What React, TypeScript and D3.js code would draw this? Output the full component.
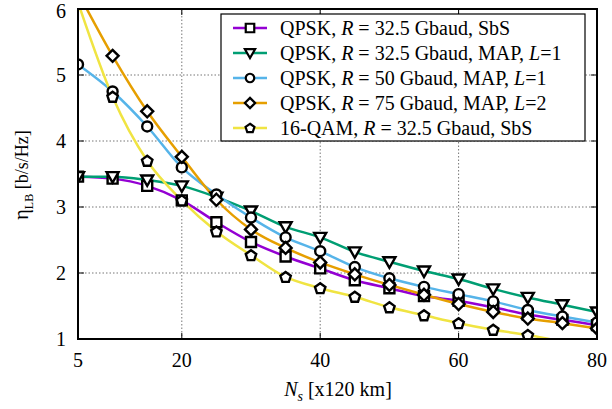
import React, { useEffect, useRef } from "react";
import * as d3 from "d3";

// Number of spans N_s
const ns = [5, 10, 15, 20, 25, 30, 35, 40, 45, 50, 55, 60, 65, 70, 75, 80];

// eta_LB values per series
const qpsk325SbS = [3.46, 3.43, 3.32, 3.1, 2.77, 2.47, 2.25, 2.07, 1.89, 1.77, 1.65, 1.58, 1.48, 1.37, 1.29, 1.21];
const qpsk325Map = [3.46, 3.46, 3.41, 3.32, 3.15, 2.94, 2.7, 2.54, 2.32, 2.17, 2.03, 1.91, 1.76, 1.63, 1.52, 1.41];
const qpsk50Map = [5.16, 4.75, 4.22, 3.6, 3.19, 2.84, 2.54, 2.33, 2.09, 1.92, 1.79, 1.68, 1.57, 1.44, 1.34, 1.25];
const qpsk75Map = [6.25, 5.29, 4.45, 3.76, 3.11, 2.66, 2.38, 2.16, 1.98, 1.82, 1.67, 1.53, 1.41, 1.31, 1.24, 1.16];
const qam16SbS = [6.1, 4.67, 3.7, 3.1, 2.63, 2.27, 1.94, 1.77, 1.64, 1.48, 1.36, 1.24, 1.14, 1.06, 0.96, 0.88];

const xTicks = [5, 20, 40, 60, 80];
const yTicks = [1, 2, 3, 4, 5, 6];
const xGrid = [20, 40, 60];
const yGrid = [2, 3, 4, 5];

// legend label pieces: [text, italic?]
const series = [
  { values: qpsk325SbS, color: "#9400d3", marker: "square", label: [["QPSK, ", false], ["R", true], [" = 32.5 Gbaud, SbS", false]] },
  { values: qpsk325Map, color: "#009e73", marker: "triangle", label: [["QPSK, ", false], ["R", true], [" = 32.5 Gbaud, MAP, ", false], ["L", true], ["=1", false]] },
  { values: qpsk50Map, color: "#56b4e9", marker: "circle", label: [["QPSK, ", false], ["R", true], [" = 50 Gbaud, MAP, ", false], ["L", true], ["=1", false]] },
  { values: qpsk75Map, color: "#e69f00", marker: "diamond", label: [["QPSK, ", false], ["R", true], [" = 75 Gbaud, MAP, ", false], ["L", true], ["=2", false]] },
  { values: qam16SbS, color: "#f0e442", marker: "pentagon", label: [["16-QAM, ", false], ["R", true], [" = 32.5 Gbaud, SbS", false]] },
];

const markerPath = (type: string) => {
  switch (type) {
    case "square":
      return "M-5,-5H5V5H-5Z";
    case "triangle":
      return "M-6,-4.5H6L0,6Z";
    case "circle":
      return "M5,0A5,5 0 1,1 -5,0A5,5 0 1,1 5,0Z";
    case "diamond":
      return "M0,-6L6,0L0,6L-6,0Z";
    default: {
      const pts = d3.range(5).map((i) => {
        const a = -Math.PI / 2 + (i * 2 * Math.PI) / 5;
        return [5.5 * Math.cos(a), 5.5 * Math.sin(a) + 0.5];
      });
      return "M" + pts.map((p) => p.join(",")).join("L") + "Z";
    }
  }
};

const App = () => {
  const svgRef = useRef(null);

  useEffect(() => {
    const svg = d3.select(svgRef.current);
    svg.selectAll("*").remove();

    const left = 78, right = 597, top = 9, bottom = 339;
    const font = "'Liberation Serif', 'Times New Roman', serif";
    const fs = 20;

    const x = d3.scaleLinear().domain([5, 80]).range([left, right]);
    const y = d3.scaleLinear().domain([1, 6]).range([bottom, top]);

    svg.append("rect").attr("width", 612).attr("height", 409).attr("fill", "white");

    svg
      .append("defs")
      .append("clipPath")
      .attr("id", "plot-clip")
      .append("rect")
      .attr("x", left)
      .attr("y", top)
      .attr("width", right - left)
      .attr("height", bottom - top);

    // grid
    const grid = svg.append("g").attr("stroke", "#777").attr("stroke-width", 1).attr("stroke-dasharray", "1.5,2");
    xGrid.forEach((v) => {
      grid.append("line").attr("x1", x(v)).attr("x2", x(v)).attr("y1", top).attr("y2", bottom);
    });
    yGrid.forEach((v) => {
      grid.append("line").attr("x1", left).attr("x2", right).attr("y1", y(v)).attr("y2", y(v));
    });

    // ticks (inward, mirrored)
    const ticks = svg.append("g").attr("stroke", "black").attr("stroke-width", 1);
    xTicks.forEach((v) => {
      ticks.append("line").attr("x1", x(v)).attr("x2", x(v)).attr("y1", bottom).attr("y2", bottom - 6);
      ticks.append("line").attr("x1", x(v)).attr("x2", x(v)).attr("y1", top).attr("y2", top + 6);
    });
    yTicks.forEach((v) => {
      ticks.append("line").attr("x1", left).attr("x2", left + 6).attr("y1", y(v)).attr("y2", y(v));
      ticks.append("line").attr("x1", right).attr("x2", right - 6).attr("y1", y(v)).attr("y2", y(v));
    });

    // tick labels
    svg
      .append("g")
      .selectAll("text")
      .data(xTicks)
      .enter()
      .append("text")
      .attr("x", (d) => x(d))
      .attr("y", bottom + 28)
      .attr("text-anchor", "middle")
      .attr("font-family", font)
      .attr("font-size", fs)
      .text((d) => d);

    svg
      .append("g")
      .selectAll("text")
      .data(yTicks)
      .enter()
      .append("text")
      .attr("x", left - 12)
      .attr("y", (d) => Math.max(y(d) + 7, 18))
      .attr("text-anchor", "end")
      .attr("font-family", font)
      .attr("font-size", fs)
      .text((d) => d);

    // lines
    const plot = svg.append("g").attr("clip-path", "url(#plot-clip)");
    const line = d3
      .line<number>()
      .x((d, i) => x(ns[i]))
      .y((d) => y(d))
      .curve(d3.curveMonotoneX);

    series.forEach((s) => {
      plot
        .append("path")
        .attr("d", line(s.values))
        .attr("fill", "none")
        .attr("stroke", s.color)
        .attr("stroke-width", 2.5);
    });

    series.forEach((s) => {
      plot
        .append("g")
        .selectAll("path")
        .data(s.values.map((v, i) => [ns[i], v]).filter((d) => d[1] >= 1 && d[1] <= 6))
        .enter()
        .append("path")
        .attr("transform", (d) => `translate(${x(d[0])},${y(d[1])})`)
        .attr("d", markerPath(s.marker))
        .attr("fill", "white")
        .attr("stroke", "black")
        .attr("stroke-width", 2.4);
    });

    // frame
    svg
      .append("rect")
      .attr("x", left)
      .attr("y", top)
      .attr("width", right - left)
      .attr("height", bottom - top)
      .attr("fill", "none")
      .attr("stroke", "black")
      .attr("stroke-width", 2);

    // legend
    const lg = svg.append("g");
    lg.append("rect")
      .attr("x", 221)
      .attr("y", 14)
      .attr("width", 364)
      .attr("height", 127)
      .attr("fill", "white")
      .attr("stroke", "black")
      .attr("stroke-width", 1.2);

    series.forEach((s, i) => {
      const ly = 28 + i * 25;
      lg.append("line")
        .attr("x1", 233)
        .attr("x2", 267)
        .attr("y1", ly)
        .attr("y2", ly)
        .attr("stroke", s.color)
        .attr("stroke-width", 2.5);
      lg.append("path")
        .attr("transform", `translate(250,${ly}) scale(0.85)`)
        .attr("d", markerPath(s.marker))
        .attr("fill", "white")
        .attr("stroke", "black")
        .attr("stroke-width", 2.6);
      const t = lg
        .append("text")
        .attr("x", 280)
        .attr("y", ly + 7)
        .attr("font-family", font)
        .attr("font-size", fs);
      s.label.forEach(([txt, it]) => {
        t.append("tspan")
          .attr("font-style", it ? "italic" : "normal")
          .text(txt as string);
      });
    });

    // axis titles
    const xl = svg
      .append("text")
      .attr("x", 338)
      .attr("y", 396)
      .attr("text-anchor", "middle")
      .attr("font-family", font)
      .attr("font-size", fs);
    xl.append("tspan").attr("font-style", "italic").text("N");
    xl.append("tspan").attr("font-style", "italic").attr("font-size", 14).attr("dy", 5).text("s");
    xl.append("tspan").attr("dy", -5).text(" [x120 km]");

    const yl = svg
      .append("text")
      .attr("transform", `translate(28,175) rotate(-90)`)
      .attr("text-anchor", "middle")
      .attr("font-family", font)
      .attr("font-size", 18);
    yl.append("tspan").attr("font-size", 20).text("η");
    yl.append("tspan").attr("font-size", 12).attr("dy", 5).text("LB");
    yl.append("tspan").attr("dy", -5).text(" [b/s/Hz]");
  }, []);

  return <svg ref={svgRef} width={612} height={409} style={{ position: "absolute", left: 0, top: 0 }}></svg>;
};

export default App;
